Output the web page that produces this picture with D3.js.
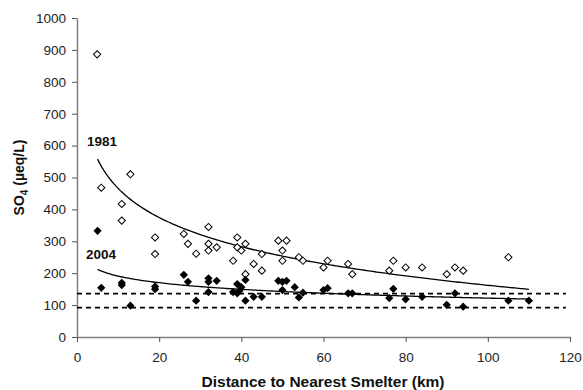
<!DOCTYPE html>
<html>
<head>
<meta charset="utf-8">
<script src="https://cdn.jsdelivr.net/npm/d3@7"></script>
<style>
  body { margin: 0; background: #fff; }
  text { font-family: "Liberation Sans", Arial, sans-serif; }
</style>
</head>
<body>
<script>
// 1981 survey: [distance km, SO4 ueq/L]
const data1981 = [
  [4.9, 886], [5.9, 468], [10.9, 417], [10.9, 365], [13, 510], [19, 312], [19, 260],
  [26, 323], [27, 292], [29, 261], [32, 345], [32, 292], [32, 271], [34, 281],
  [38, 239], [39, 312], [39, 281], [40, 271], [41, 292], [41, 197], [43, 229],
  [45, 260], [45, 208], [49, 302], [51, 302], [50, 271], [50, 239], [54, 250],
  [55, 239], [60, 218], [61, 239], [66, 229], [67, 197], [76, 208], [77, 239],
  [80, 218], [84, 218], [90, 197], [92, 218], [94, 208], [105, 250]
];
// 2004 survey
const data2004 = [
  [5, 333], [5.9, 154], [10.9, 170], [10.9, 163], [13, 98], [19, 158], [19, 150],
  [26, 195], [27, 173], [29, 114], [32, 184], [32, 173], [32, 141], [34, 176],
  [38, 141], [39, 166], [39, 137], [39.5, 144], [40, 156], [41, 179], [41, 114],
  [43, 126], [45, 126], [49, 176], [50, 173], [51, 176], [50, 147], [53, 156],
  [54, 124], [55, 139], [60, 147], [61, 153], [66, 137], [67, 137], [76, 122],
  [77, 151], [80, 118], [84, 126], [90, 101], [92, 137], [94, 95], [105, 114], [110, 114]
];
// logarithmic trendlines y = a + b ln(x)
const trend1981 = { a: 770, b: -132, from: 5, to: 110 };
const trend2004 = { a: 260, b: -30, from: 5, to: 110 };
const refLevels = [136, 92];
const xTicks = [0, 20, 40, 60, 80, 100, 120];
const yTicks = [0, 100, 200, 300, 400, 500, 600, 700, 800, 900, 1000];

const W = 583, H = 390;
const margin = { left: 77, top: 18, right: 13, bottom: 53 };

const svg = d3.select("body").append("svg")
  .attr("width", W).attr("height", H);

const x = d3.scaleLinear().domain([0, 120]).range([margin.left, 570]);
const y = d3.scaleLinear().domain([0, 1000]).range([337, margin.top]);

// axes
const xAxis = svg.append("g")
  .attr("transform", "translate(0," + y(0) + ")")
  .call(d3.axisBottom(x).tickValues(xTicks).tickFormat(d3.format("d"))
    .tickSizeInner(5).tickSizeOuter(0).tickPadding(10));
const yAxis = svg.append("g")
  .attr("transform", "translate(" + x(0) + ",0)")
  .call(d3.axisLeft(y).tickValues(yTicks).tickFormat(d3.format("d"))
    .tickSizeInner(5).tickSizeOuter(0).tickPadding(6));

[xAxis, yAxis].forEach(function (g) {
  g.select(".domain").attr("stroke", "#808080").attr("stroke-width", 1.5);
  g.selectAll(".tick line").attr("stroke", "#555");
  g.selectAll(".tick text").attr("fill", "#222").style("font-size", "13.5px")
    .style("font-family", "'Liberation Sans', Arial, sans-serif");
});

// dashed reference lines
svg.selectAll(".ref").data(refLevels).enter().append("line")
  .attr("x1", x(0)).attr("x2", x(119))
  .attr("y1", function (d) { return y(d); })
  .attr("y2", function (d) { return y(d); })
  .attr("stroke", "#000").attr("stroke-width", 1.8)
  .attr("stroke-dasharray", "5,4");

// trendlines
const line = d3.line()
  .x(function (d) { return x(d[0]); })
  .y(function (d) { return y(d[1]); });
[trend1981, trend2004].forEach(function (t) {
  const pts = d3.range(t.from, t.to + 0.01, 0.5).map(function (d) {
    return [d, t.a + t.b * Math.log(d)];
  });
  svg.append("path").datum(pts)
    .attr("d", line).attr("fill", "none")
    .attr("stroke", "#000").attr("stroke-width", 1.3);
});

// markers
const openSym = d3.symbol().type(d3.symbolSquare).size(26);
const fillSym = d3.symbol().type(d3.symbolSquare).size(34);

svg.append("g").selectAll("path").data(data1981).enter().append("path")
  .attr("d", openSym)
  .attr("transform", function (d) { return "translate(" + x(d[0]) + "," + y(d[1]) + ") rotate(45)"; })
  .attr("fill", "#fff").attr("stroke", "#000").attr("stroke-width", 1);

svg.append("g").selectAll("path").data(data2004).enter().append("path")
  .attr("d", fillSym)
  .attr("transform", function (d) { return "translate(" + x(d[0]) + "," + y(d[1]) + ") rotate(45)"; })
  .attr("fill", "#000");

// series labels
svg.append("text").attr("x", 87).attr("y", 146)
  .style("font-size", "13.5px").style("font-weight", "bold").attr("fill", "#111").text("1981");
svg.append("text").attr("x", 86).attr("y", 259)
  .style("font-size", "13.5px").style("font-weight", "bold").attr("fill", "#111").text("2004");

// axis titles
svg.append("text").attr("x", 323).attr("y", 387)
  .attr("text-anchor", "middle")
  .style("font-size", "15.5px").style("font-weight", "bold").attr("fill", "#111")
  .text("Distance to Nearest Smelter (km)");

const yt = svg.append("text")
  .attr("transform", "translate(24," + ((y(0) + y(1000)) / 2) + ") rotate(-90)")
  .attr("text-anchor", "middle")
  .style("font-size", "14px").style("font-weight", "bold").attr("fill", "#111");
yt.append("tspan").text("SO");
yt.append("tspan").attr("dy", 4).style("font-size", "10px").text("4");
yt.append("tspan").attr("dy", -4).text(" (µeq/L)");
</script>
</body>
</html>
